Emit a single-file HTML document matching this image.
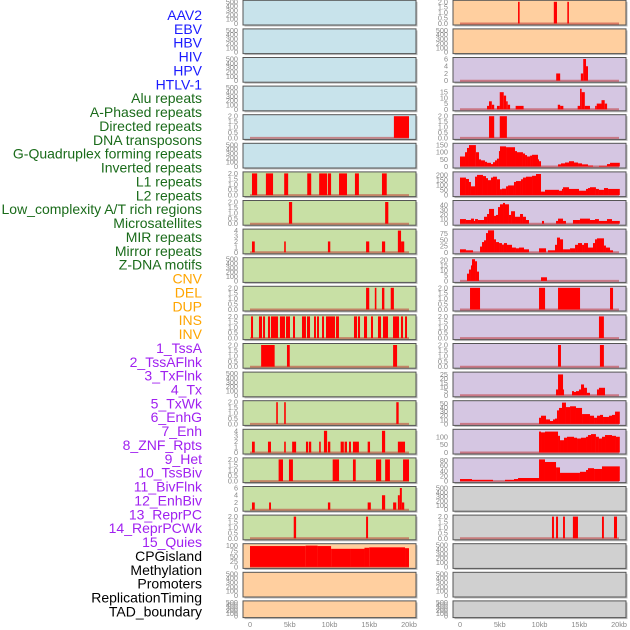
<!DOCTYPE html>
<html><head><meta charset="utf-8"><style>
html,body{margin:0;padding:0;background:#fff;}
svg{display:block;font-family:"Liberation Sans",sans-serif;}
</style></head><body>
<svg id="chart" width="630" height="630" viewBox="0 0 630 630"></svg>
<script>
// ---------- data ----------
const trackLabels = ["AAV2","EBV","HBV","HIV","HPV","HTLV-1","Alu repeats","A-Phased repeats","Directed repeats","DNA transposons","G-Quadruplex forming repeats","Inverted repeats","L1 repeats","L2 repeats","Low_complexity A/T rich regions","Microsatellites","MIR repeats","Mirror repeats","Z-DNA motifs","CNV","DEL","DUP","INS","INV","1_TssA","2_TssAFlnk","3_TxFlnk","4_Tx","5_TxWk","6_EnhG","7_Enh","8_ZNF_Rpts","9_Het","10_TssBiv","11_BivFlnk","12_EnhBiv","13_ReprPC","14_ReprPCWk","15_Quies","CPGisland","Methylation","Promoters","ReplicationTiming","TAD_boundary"];
const labelGroups = [6,13,5,15,5];
const groupColors = ["#1a1aff","#1a6b1a","#ffa500","#a020f0","#000000"];
const xTickValues = [0,5,10,15,20];
const xTickLabels = ["0","5kb","10kb","15kb","20kb"];

const ticks500 = ["0","100","200","300","400","500"];
const ticks2 = ["0.0","0.5","1.0","1.5","2.0"];
const ticks4 = ["0","1","2","3","4"];
const ticks6 = ["0","2","4","6"];

// segments: [startKb, endKb, value]
const segL4 = [[18.1,20.0,2]];
const segL6 = [[0.25,0.9,2],[2.0,2.9,2],[4.3,4.8,2],[7.2,7.7,2],[8.7,9.7,2],[9.8,10.2,2],[11.2,12.2,2],[13.2,13.7,2],[16.6,17.2,2]];
const segL7 = [[4.9,5.3,2],[17.0,17.4,2]];
const segL8 = [[0.25,0.6,2],[4.3,4.5,2],[9.8,10.1,2],[14.6,15.0,2],[16.6,17.0,2],[18.6,19.0,4],[19.0,19.4,2]];
const segL10 = [[14.6,15.0,2],[15.7,15.9,2],[16.6,16.9,2],[17.7,18.1,2]];
const segL11 = [[0.13,0.38,2],[1.13,1.51,2],[1.64,1.89,2],[2.26,2.52,2],[2.64,3.52,2],[3.77,4.4,2],[4.53,5.03,2],[5.41,5.66,2],[6.54,7.04,2],[7.17,7.55,2],[8.05,8.3,2],[8.43,8.68,2],[9.06,9.31,2],[9.56,10.69,2],[10.82,11.19,2],[13.08,13.46,2],[13.58,13.84,2],[14.34,14.72,2],[15.22,15.47,2],[16.1,16.48,2],[16.73,17.36,2],[17.99,18.74,2],[18.99,19.25,2],[19.5,19.75,2]];
const segL12 = [[1.4,3.1,2],[4.65,5.0,2],[18.0,18.5,2]];
const segL14 = [[3.3,3.5,2],[4.3,4.5,2],[18.4,18.7,2]];
const segL15 = [[0.25,0.6,2],[2.26,2.64,2],[4.3,4.5,2],[5.3,5.8,2],[7.04,7.3,2],[7.4,7.7,2],[8.7,8.9,2],[9.3,9.7,4],[9.8,10.1,2],[11.4,11.8,2],[11.9,12.2,2],[12.45,12.7,2],[12.95,13.7,2],[14.8,15.1,2],[16.6,17.0,4],[18.6,19.5,2]];
const segL16 = [[3.6,4.15,2],[4.9,5.4,2],[10.4,11.2,2],[12.95,13.3,2],[15.85,16.5,2],[17.0,17.6,2],[19.25,20.0,2]];
const segL17 = [[0.25,0.6,2],[2.4,2.64,2],[9.8,10.1,2],[14.8,15.2,2],[16.6,17.0,4],[18.0,18.4,2],[18.6,18.85,4],[18.85,19.1,6],[19.1,19.4,2]];
const segL18 = [[5.5,5.8,2],[14.6,14.85,2]];
const segL19 = [[0,7,98],[7,8.5,100],[8.5,10.2,98],[10.2,12.7,85],[12.7,14.4,85],[14.4,15,90],[15,19.5,92],[19.5,20,88]];

const segR0 = [[7.3,7.5,2],[11.8,12.2,2],[13.5,13.7,2]];
const segR2 = [[12.1,12.6,2],[15.2,15.5,2],[15.5,15.85,6],[15.85,16.1,4]];
const segR3 = [[3.4,3.65,3],[3.65,4.0,7],[4.0,4.3,4],[4.65,5.0,3],[5.0,5.5,15],[5.5,5.8,12],[5.8,6.0,7],[6.0,6.3,4],[7.0,8.0,3],[12.3,12.6,4],[12.6,13.0,3],[14.8,15.1,3],[15.1,15.3,18],[15.3,15.7,15],[15.7,16.35,3],[17.0,17.2,3],[17.2,17.8,5],[17.8,18.2,8],[18.2,18.5,5]];
const segR4 = [[3.65,4.3,2],[5.0,5.9,2]];
const segR9 = [[0.88,1.13,7],[1.13,1.38,11],[1.38,1.51,15],[1.51,1.89,21],[1.89,2.14,19],[2.14,2.39,9],[10.19,10.94,3.5]];
const segR10 = [[1.26,2.52,2],[9.94,10.7,2],[12.33,15.1,2],[18.87,19.25,2]];
const segR11 = [[17.48,18.1,2]];
const segR12 = [[12.33,12.7,2],[17.6,18.1,2]];
const segR13 = [[12.08,12.33,7],[12.33,12.96,25],[12.96,13.08,7],[14.09,14.34,5],[14.34,14.59,4],[14.59,14.97,5],[14.97,15.22,7],[15.22,15.6,13],[15.6,15.97,9],[15.97,16.35,3],[17.23,17.48,7],[17.48,18.24,9]];
const segR18 = [[11.57,11.82,2],[12.08,12.33,2],[12.96,13.2,2],[14.2,14.84,2],[17.86,18.1,2],[19.37,19.75,2]];

// step profiles: starts (kb) and values; each step ends at next start (last ends at 20.1)
const stepR5Starts = [0,0.63,0.88,1.13,2.0,2.39,2.64,3.14,3.4,3.9,4.15,4.4,4.65,4.9,5.03,5.79,6.92,7.17,7.92,8.18,8.43,8.81,9.06,9.81,9.94,10.19,12.33,12.7,13.21,13.71,14.34,14.85,15.35,16.1,16.73,17.48,18.49,18.87];
const stepR5Vals = [70,100,130,150,100,50,43,33,26,17,30,43,55,108,141,135,108,100,91,80,70,76,82,50,37,0,15,22,28,37,28,22,15,7,0,5,17,26];
const stepR6Starts = [0,0.75,1.13,1.38,1.89,2.14,2.89,3.27,3.52,3.9,4.15,4.65,5.03,5.28,5.79,6.04,6.79,7.04,7.67,7.92,8.3,9.06,9.56,10.19,10.69,12.45,12.83,12.96,13.71,14.97,15.85,16.1,16.35,17.1,17.48,18.11,18.62];
const stepR6Vals = [176,162,132,88,185,203,191,170,150,176,185,159,59,65,88,97,132,141,159,176,185,194,212,35,53,44,62,79,62,44,62,71,79,62,53,71,62];
const stepR7Starts = [0,0.75,1.38,1.76,1.89,2.26,3.02,3.4,3.65,4.28,4.53,4.78,5.03,5.41,5.66,6.16,6.42,6.92,7.55,7.92,8.3,8.68,10.31,10.57,12.08,12.33,12.96,13.33,14.21,15.09,16.35,16.98,17.48,18.49,19.12];
const stepR7Vals = [10,8,11,6,10,8,15,21,32,17,19,36,42,45,42,19,27,15,21,15,8,0,6,0,6,11,6,0,8,11,8,10,6,10,6];
const stepR8Starts = [0,0.75,1.64,2.52,2.77,3.02,3.27,3.52,4.28,4.53,4.91,5.28,5.53,5.91,6.54,7.04,7.42,8.05,8.68,9.94,10.82,11.07,11.95,12.2,12.58,12.96,13.84,14.47,14.84,15.35,15.6,16.1,16.73,16.98,17.23,18.11,18.36,18.87,19.25];
const stepR8Vals = [12,8,0,23,41,48,77,88,52,41,37,31,37,30,19,16,19,12,0,16,0,8,30,59,52,12,16,30,37,30,37,19,37,52,56,27,19,8,0];
const stepR14Starts = [9.94,10.19,10.82,11.07,11.32,11.7,11.95,12.2,12.45,12.83,13.33,13.84,14.59,15.35,16.35,16.86,17.23,17.61,17.99,18.74,19.12,19.5];
const stepR14Vals = [15,20,11,11,7,11,13,33,39,52,41,43,39,24,20,15,20,22,17,20,22,30];
const stepR15Starts = [9.94,10.19,10.69,12.33,12.58,13.08,13.46,14.34,14.72,15.22,15.85,16.1,16.48,17.1,17.48,17.86,18.24,19.12,19.62];
const stepR15Vals = [133,128,133,106,78,94,100,94,89,94,100,111,117,100,89,100,111,106,100];
const stepR16Starts = [0,1.51,4.15,5.66,6.79,7.3,9.94,10.69,12.08,12.58,15.09,15.85,16.1,16.86,17.86];
const stepR16Vals = [8,5,0,5,8,12,84,74,53,32,36,43,50,47,57];

function steps(starts, vals){ const out=[]; for(let i=0;i<starts.length;i++){ out.push([starts[i], i+1<starts.length?starts[i+1]:20.1, vals[i]]); } return out; }

const BLUE="#c8e3eb", GREEN="#c8e0a5", PEACH="#ffcf9f", PURP="#d5c6e2", GRAY="#d0d0d0";
const leftCol = [
 {bg:BLUE,ticks:ticks500,max:500,seg:null},{bg:BLUE,ticks:ticks500,max:500,seg:null},{bg:BLUE,ticks:ticks500,max:500,seg:null},{bg:BLUE,ticks:ticks500,max:500,seg:null},
 {bg:BLUE,ticks:ticks2,max:2,seg:segL4},{bg:BLUE,ticks:ticks500,max:500,seg:null},
 {bg:GREEN,ticks:ticks2,max:2,seg:segL6},{bg:GREEN,ticks:ticks2,max:2,seg:segL7},{bg:GREEN,ticks:ticks4,max:4,seg:segL8},{bg:GREEN,ticks:ticks500,max:500,seg:null},
 {bg:GREEN,ticks:ticks2,max:2,seg:segL10},{bg:GREEN,ticks:ticks2,max:2,seg:segL11},{bg:GREEN,ticks:ticks2,max:2,seg:segL12},{bg:GREEN,ticks:ticks500,max:500,seg:null},
 {bg:GREEN,ticks:ticks2,max:2,seg:segL14},{bg:GREEN,ticks:ticks4,max:4,seg:segL15},{bg:GREEN,ticks:ticks2,max:2,seg:segL16},{bg:GREEN,ticks:ticks6,max:6,seg:segL17},
 {bg:GREEN,ticks:ticks2,max:2,seg:segL18},{bg:PEACH,ticks:["0","25","50","75","100"],max:102,seg:segL19},
 {bg:PEACH,ticks:ticks500,max:500,seg:null},{bg:PEACH,ticks:ticks500,max:500,seg:null}
];
const rightCol = [
 {bg:PEACH,ticks:ticks2,max:2,seg:segR0},{bg:PEACH,ticks:ticks500,max:500,seg:null},
 {bg:PURP,ticks:ticks6,max:6,seg:segR2},{bg:PURP,ticks:["0","5","10","15"],max:19,seg:segR3},{bg:PURP,ticks:ticks2,max:2,seg:segR4},
 {bg:PURP,ticks:["0","50","100","150"],max:152,seg:steps(stepR5Starts,stepR5Vals)},
 {bg:PURP,ticks:["0","50","100","150","200"],max:218,seg:steps(stepR6Starts,stepR6Vals)},
 {bg:PURP,ticks:["0","10","20","30","40"],max:47,seg:steps(stepR7Starts,stepR7Vals)},
 {bg:PURP,ticks:["0","25","50","75"],max:87,seg:steps(stepR8Starts,stepR8Vals)},
 {bg:PURP,ticks:["0","5","10","15","20"],max:21,seg:segR9},
 {bg:PURP,ticks:ticks2,max:2,seg:segR10},{bg:PURP,ticks:ticks2,max:2,seg:segR11},{bg:PURP,ticks:ticks2,max:2,seg:segR12},
 {bg:PURP,ticks:["0","5","10","15","20","25"],max:26,seg:segR13},
 {bg:PURP,ticks:["0","10","20","30","40","50"],max:53,seg:steps(stepR14Starts,stepR14Vals)},
 {bg:PURP,ticks:["0","50","100"],max:138,seg:steps(stepR15Starts,stepR15Vals)},
 {bg:PURP,ticks:["0","20","40","60","80"],max:84,seg:steps(stepR16Starts,stepR16Vals)},
 {bg:GRAY,ticks:ticks500,max:500,seg:null},{bg:GRAY,ticks:ticks2,max:2,seg:segR18},
 {bg:GRAY,ticks:ticks500,max:500,seg:null},{bg:GRAY,ticks:ticks500,max:500,seg:null},{bg:GRAY,ticks:ticks500,max:500,seg:null}
];

// ---------- drawing ----------
const NS="http://www.w3.org/2000/svg";
const svg=document.getElementById('chart');
function mk(tag,attrs,parent){ const e=document.createElementNS(NS,tag); for(const k in attrs) e.setAttribute(k,attrs[k]); (parent||svg).appendChild(e); return e; }

let li=0;
const labelG=mk('g',{});


labelGroups.forEach((n,g)=>{
  for(let k=0;k<n;k++){
    const t=mk('text',{x:202,y:15+li*13.87,'text-anchor':'end','dominant-baseline':'central','font-size':'14',fill:groupColors[g]},labelG);
    t.textContent=trackLabels[li];
    
    
    li++;
  }
});

const KB=7.95;
function drawCol(col, frameX, x0, side){
  col.forEach((p,i)=>{
    const top=i*28.6+0.3, h=(i===21?16.7:24.7);
    const yTop=top+1.5, yZero=top+h-1.5;
    const xs=kb=>x0+kb*KB;
    const ys=v=>yZero-(v/p.max)*(yZero-yTop);
    const g=mk('g',{});
    
    
    mk('rect',{x:frameX+1.5,y:top+1.5,width:173,height:h,fill:'#bbb'},g);
    const bg=mk('rect',{x:frameX,y:top,width:173,height:h,fill:p.bg,stroke:'#555','stroke-width':1},g);
    
    
    p.ticks.forEach((lab)=>{
      const v=parseFloat(lab);
      const t=mk('text',{x:frameX-5,y:ys(v),'text-anchor':'end','dominant-baseline':'central','font-size':'7.3',fill:'#888'},g);
      t.textContent=lab;
      
      
    });
    if(p.seg){
      const bl=mk('line',{x1:xs(0),x2:xs(20),y1:yZero,y2:yZero,stroke:'rgba(190,40,40,0.5)','stroke-width':2},g);
      
      
      p.seg.forEach(s=>{
        if(s[2]<=0) return;
        const r=mk('rect',{x:xs(s[0]),y:ys(s[2]),width:Math.max(1,xs(s[1])-xs(s[0])),height:yZero-ys(s[2]),fill:'#ff0000'},g);
        
        
      });
    }
  });
  xTickValues.forEach((v,j)=>{
    const t=mk('text',{x:x0+v*KB,y:627,'text-anchor':'middle','font-size':'7.3',fill:'#888'});
    t.textContent=xTickLabels[j];
    
    
  });
}
drawCol(leftCol,243,250,'left');
drawCol(rightCol,453,460,'right');
</script>
</body></html>
